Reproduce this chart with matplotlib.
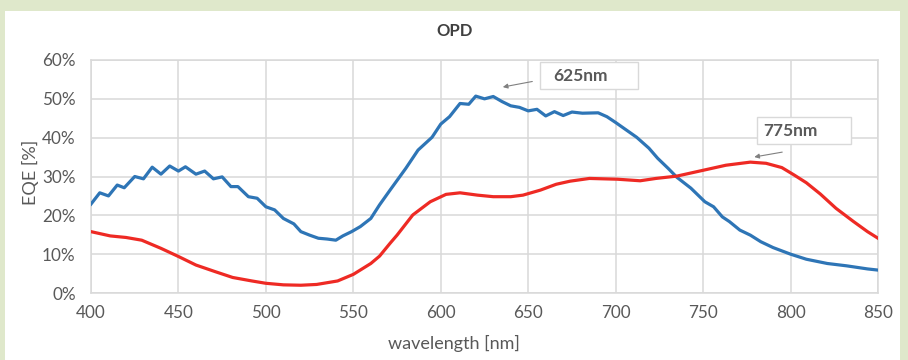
import matplotlib
matplotlib.use("Agg")
import matplotlib.pyplot as plt

plt.rcParams['font.family'] = ['Lato', 'DejaVu Sans']

# blue curve (peak near 625nm)
blue_wl = [400, 405, 410, 415, 419, 425, 430, 435, 440, 445, 450, 454, 460, 465, 470,
           475, 480, 484, 490, 495, 500, 505, 510, 516, 520, 525, 530, 535, 540, 544,
           549, 554, 560, 565, 571, 580, 587, 595, 600, 605, 611, 616, 620, 625, 630,
           635, 640, 645, 650, 655, 660, 665, 670, 675, 681, 690, 695, 700, 706, 712,
           719, 724, 730, 735, 743, 751, 756, 761, 765, 771, 777, 783, 790, 800, 809,
           821, 832, 844, 850]
blue_eqe = [22.9, 25.8, 25.0, 27.8, 27.1, 30.0, 29.4, 32.4, 30.6, 32.7, 31.4, 32.5, 30.6, 31.4, 29.4,
            29.9, 27.4, 27.4, 24.8, 24.4, 22.2, 21.4, 19.2, 17.8, 15.8, 14.9, 14.1, 13.9, 13.6, 14.7,
            15.8, 17.1, 19.2, 22.7, 26.5, 32.1, 36.8, 40.1, 43.5, 45.4, 48.8, 48.6, 50.7, 50.0, 50.6,
            49.3, 48.2, 47.8, 46.9, 47.3, 45.6, 46.7, 45.7, 46.6, 46.3, 46.4, 45.4, 43.9, 42.0, 40.1,
            37.3, 34.7, 32.1, 29.8, 27.0, 23.5, 22.2, 19.6, 18.4, 16.2, 14.9, 13.2, 11.7, 10.0, 8.7,
            7.6, 7.0, 6.2, 5.9]

# red curve (peak near 775nm)
red_wl = [400, 411, 420, 429, 440, 450, 460, 471, 481, 492, 500, 510, 520, 529, 541,
          550, 560, 565, 571, 575, 584, 594, 603, 611, 621, 630, 640, 647, 657, 666,
          674, 685, 701, 714, 723, 735, 750, 763, 777, 786, 795, 802, 809, 817, 826,
          836, 844, 850]
red_eqe = [15.8, 14.7, 14.3, 13.6, 11.5, 9.4, 7.2, 5.5, 4.0, 3.1, 2.5, 2.1, 2.0, 2.2, 3.1,
           4.8, 7.6, 9.5, 12.8, 14.9, 20.1, 23.5, 25.4, 25.8, 25.2, 24.8, 24.8, 25.2, 26.5, 28.0,
           28.8, 29.5, 29.3, 28.9, 29.5, 30.1, 31.6, 32.9, 33.7, 33.4, 32.3, 30.4, 28.4, 25.5, 21.8,
           18.4, 15.8, 14.1]

x_ticks = [400, 450, 500, 550, 600, 650, 700, 750, 800, 850]
y_ticks = [0, 10, 20, 30, 40, 50, 60]
y_labels = ["0%", "10%", "20%", "30%", "40%", "50%", "60%"]

grey = "#595959"
gridc = "#d9d9d9"

fig = plt.figure(figsize=(9.08, 3.6), dpi=100)
fig.patch.set_facecolor("#dfe8cb")
# white chart panel behind everything
bg = fig.add_axes([5/908, 0, 895/908, 349/360], zorder=-10)
bg.axis("off")
bg.add_patch(plt.Rectangle((0, 0), 1, 1, transform=bg.transAxes, facecolor="white",
                           edgecolor="none"))

ax = fig.add_axes([91/908, 1 - 293/360, 787/908, 233/360])
ax.set_facecolor("white")
ax.plot(blue_wl, blue_eqe, color="#2e75b6", lw=2.3, solid_joinstyle="round", zorder=3)
ax.plot(red_wl, red_eqe, color="#ee2a24", lw=2.3, solid_joinstyle="round", zorder=3)

ax.set_xlim(400, 850)
ax.set_ylim(0, 60)
ax.set_xticks(x_ticks)
ax.set_yticks(y_ticks)
ax.set_yticklabels(y_labels)
ax.grid(True, color=gridc, lw=1.1)
for s in ax.spines.values():
    s.set_color(gridc)
    s.set_linewidth(1.1)
ax.tick_params(length=0, labelsize=12.3, colors=grey, pad=11)
ax.tick_params(axis="x", pad=9)

ax.set_xlabel("wavelength [nm]", fontsize=13, color=grey)
ax.xaxis.set_label_coords((454 - 91) / 787, -0.18)
ax.set_ylabel("EQE [%]", fontsize=13, color=grey)
ax.yaxis.set_label_coords(-(91 - 39) / 787, (293 - 172) / 233)
fig.text(455/908, 1 - 31/360, "OPD", ha="center", va="center", fontsize=12,
         fontweight="bold", color="#404040")

# label boxes
ax.add_patch(plt.Rectangle((657.0, 52.5), 56.0, 7.0, facecolor="white", edgecolor=gridc,
                           lw=1, zorder=5, clip_on=False))
ax.text(664.4, 56.0, "625nm", ha="left", va="center", fontsize=12.5, fontweight="bold",
        color=grey, zorder=6)
ax.annotate("", xy=(633.9, 52.9), xytext=(653.9, 54.6),
            arrowprops=dict(arrowstyle="-|>", color="#808080", lw=0.8, mutation_scale=7))

ax.add_patch(plt.Rectangle((780.6, 38.4), 53.7, 6.8, facecolor="white", edgecolor=gridc,
                           lw=1, zorder=5, clip_on=False))
ax.text(784.5, 41.7, "775nm", ha="left", va="center", fontsize=12.5, fontweight="bold",
        color=grey, zorder=6)
ax.annotate("", xy=(777.7, 34.9), xytext=(796.8, 36.4),
            arrowprops=dict(arrowstyle="-|>", color="#808080", lw=0.8, mutation_scale=7))

fig.savefig("out.png", dpi=100)
